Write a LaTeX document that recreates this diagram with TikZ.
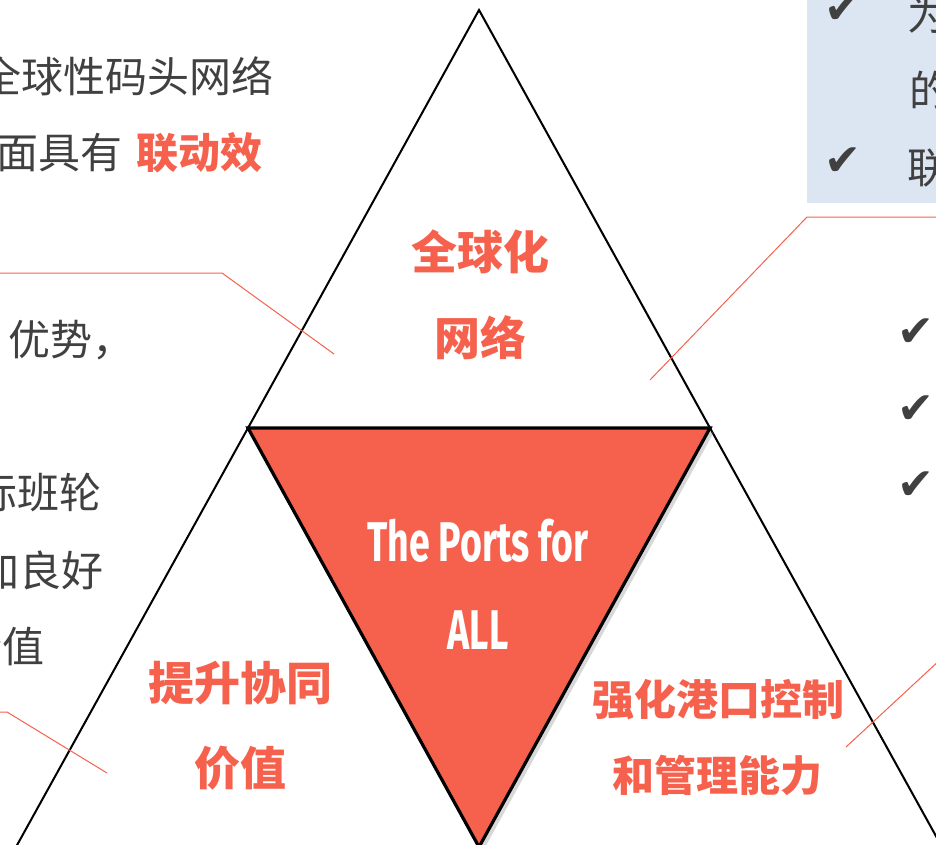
\documentclass[tikz,border=0pt]{standalone}
\usepackage{fontspec}
\usetikzlibrary{shadows}
\newfontfamily\cjk{Noto Sans CJK SC}
\newfontfamily\symf{DejaVu Sans}
\newfontfamily\portsf{Fira Sans}[FakeStretch=0.67]
\definecolor{accent}{HTML}{F5614C}
\definecolor{txt}{HTML}{404040}
\definecolor{boxblue}{HTML}{DCE6F2}
\tikzset{
  tri/.style={draw=black, line width=2pt, fill=white, line join=miter,
    drop shadow={shadow xshift=3pt, shadow yshift=-3pt, opacity=0.18}},
  redtri/.style={draw=black, line width=3.2pt, fill=accent, line join=miter,
    drop shadow={shadow xshift=4pt, shadow yshift=-4pt, opacity=0.3}},
  callout/.style={draw=accent, line width=1pt},
  bodytxt/.style={inner sep=0pt, text=txt, font=\cjk\fontsize{42}{50}\selectfont},
  title/.style={inner sep=0pt, text=accent, font=\cjk\bfseries\fontsize{46}{54}\selectfont},
  titlesm/.style={inner sep=0pt, text=accent, font=\cjk\bfseries\fontsize{42}{50}\selectfont},
  ports/.style={inner sep=0pt, text=white, font=\portsf\bfseries\fontsize{56}{60}\selectfont},
  tick/.style={inner sep=0pt, text=txt, font=\symf\fontsize{44}{50}\selectfont},
}
\begin{document}
\begin{tikzpicture}[x=1pt,y=-1pt]
\useasboundingbox (0,0) rectangle (936,845);
\clip (0,0) rectangle (936,845);
% geometry
\coordinate (A) at (479,10);
\coordinate (L) at (248,428);
\coordinate (R) at (710,428);
\coordinate (BL) at (16,847);
\coordinate (BM) at (479,847);
\coordinate (BR) at (942,847);
% blue box
\fill[boxblue] (807,-5) rectangle (950,203);
% triangles
\path[tri] (A) -- (L) -- (R) -- cycle;
\path[tri] (L) -- (BL) -- (BM) -- cycle;
\path[tri] (R) -- (BM) -- (BR) -- cycle;
\path[redtri] (L) -- (R) -- (BM) -- cycle;
% callouts
\coordinate (c1s) at (-5,273); \coordinate (c1k) at (222,273); \coordinate (c1e) at (334,354);
\coordinate (c2s) at (950,217); \coordinate (c2k) at (807,217); \coordinate (c2e) at (650,380);
\coordinate (c3s) at (-5,712); \coordinate (c3k) at (7,712); \coordinate (c3e) at (107,773);
\coordinate (c4s) at (955,646); \coordinate (c4e) at (846,747);
\draw[callout] (c1s) -- (c1k) -- (c1e);
\draw[callout] (c2s) -- (c2k) -- (c2e);
\draw[callout] (c3s) -- (c3k) -- (c3e);
\draw[callout] (c4s) -- (c4e);
% left texts
\node[bodytxt, anchor=east] (t1) at (274,76) {全球性码头网络};
\node[bodytxt, anchor=east] (t2) at (263,153) {面具有\hspace{14pt}{\bfseries\color{accent}联动效}};
\node[bodytxt, anchor=west] (t3) at (8,340) {优势，};
\node[bodytxt, anchor=east] (t4) at (102,493) {际班轮};
\node[bodytxt, anchor=east] (t5) at (104,570) {加良好};
\node[bodytxt, anchor=east] (t6) at (45,647) {价值};
% right box texts
\node[tick] (k1) at (843,10) {✔};
\node[bodytxt, anchor=west] (r1) at (907,14) {为};
\node[bodytxt, anchor=west] (r2) at (909,90) {的};
\node[tick] (k2) at (843,162) {✔};
\node[bodytxt, anchor=west] (r3) at (907,168) {联};
% right ticks
\node[tick] (k3) at (916,333) {✔};
\node[tick] (k4) at (916,410) {✔};
\node[tick] (k5) at (916,486) {✔};
% titles
\node[title] (g1) at (480,252) {全球化};
\node[title] (g2) at (480,338) {网络};
\node[ports] (p1) at (478,541) {The Ports for};
\node[ports] (p2) at (478,630) {ALL};
\node[title] (s1) at (240,683) {提升协同};
\node[title] (s2) at (240,768) {价值};
\node[titlesm] (h1) at (718,700) {强化港口控制};
\node[titlesm] (h2) at (717,775) {和管理能力};
\end{tikzpicture}
\end{document}
